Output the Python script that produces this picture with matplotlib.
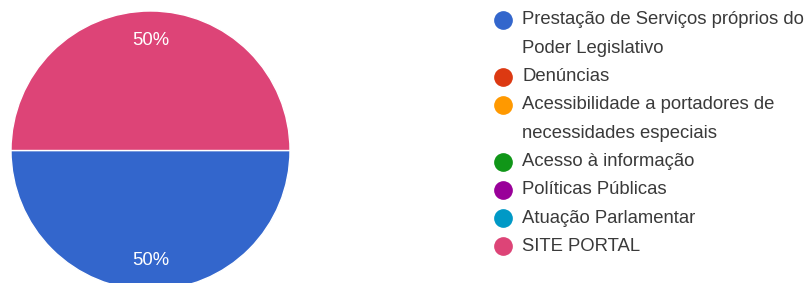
import matplotlib as mpl
import matplotlib.pyplot as plt

mpl.use('Agg')
plt.rcParams['font.family'] = ['Liberation Sans', 'DejaVu Sans']

categorias = [
    "Prestação de Serviços próprios do\nPoder Legislativo",
    "Denúncias",
    "Acessibilidade a portadores de\nnecessidades especiais",
    "Acesso à informação",
    "Políticas Públicas",
    "Atuação Parlamentar",
    "SITE PORTAL",
]
respostas = [1, 0, 0, 0, 0, 0, 1]
cores = ["#3366cc", "#dc3912", "#ff9900", "#109618", "#990099", "#0099c6", "#dd4477"]

W, H = 811, 283
fig = plt.figure(figsize=(W / 100, H / 100), dpi=100)

# pizza (so fatias com valor)
ax = fig.add_axes([11 / W, -7 / H, 279 / W, 279 / H])
vals = [v for v in respostas if v > 0]
cs = [c for v, c in zip(respostas, cores) if v > 0]
wedges, textos, pcts = ax.pie(vals, colors=cs, startangle=0, counterclock=False,
                              autopct='%1.0f%%', pctdistance=0.79,
                              wedgeprops=dict(edgecolor='white', linewidth=1),
                              textprops=dict(color='white', fontsize=13.3))
ax.set_xlim(-1.0, 1.0)
ax.set_ylim(-1.0, 1.0)

# legenda feita na mao pra marcador ficar na primeira linha
lg = fig.add_axes([0, 0, 1, 1])
lg.set_xlim(0, W)
lg.set_ylim(H, 0)
lg.axis('off')
passo = 28.3
linha = 0
for cat, cor in zip(categorias, cores):
    y0 = 20 + linha * passo
    lg.scatter([503], [y0], s=155, color=cor, zorder=3)
    for j, txt in enumerate(cat.split("\n")):
        lg.text(522, y0 + j * passo, txt, fontsize=13.3, color='#3a3a3a', va='center', ha='left')
    linha += len(cat.split("\n"))

fig.savefig('out.png', dpi=100)
